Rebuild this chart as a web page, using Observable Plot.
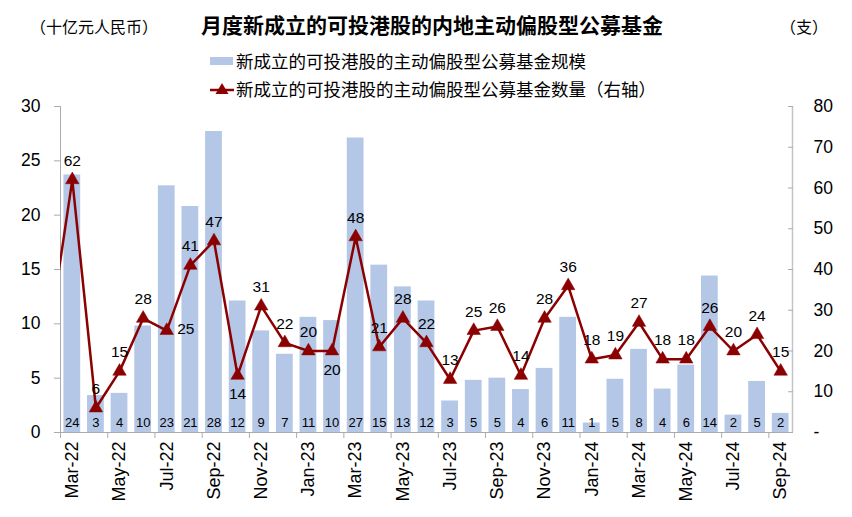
<!DOCTYPE html>
<html>
<head>
<meta charset="utf-8">
<script src="https://cdn.jsdelivr.net/npm/d3@7"></script>
<script src="https://cdn.jsdelivr.net/npm/@observablehq/plot@0.6"></script>
<style>
  body { margin: 0; background: #fff; font-family: "Liberation Sans", Arial, "Noto Sans CJK SC", sans-serif; }
  #wrap { position: relative; width: 852px; height: 517px; overflow: hidden; }
  #chart { position: absolute; left: 0; top: 0; }
  .t { position: absolute; white-space: nowrap; color: #000; line-height: 1; font-family: "Liberation Sans", Arial, "Noto Sans CJK SC", sans-serif; }
  #title { left: 0; width: 864px; text-align: center; top: 15px; font-size: 21px; font-weight: bold; }
  #unitL { left: 30px; top: 20px; font-size: 16px; }
  #unitR { left: 780px; top: 20px; font-size: 16px; }
  .leg { position: absolute; left: 210px; display: flex; align-items: center; font-size: 17.5px; white-space: nowrap; }
  .sw { width: 23px; height: 8px; background: #B4C7E7; margin-right: 3px; }
</style>
</head>
<body>
<div id="wrap">
  <div id="chart"></div>
  <div class="t" id="unitL">（十亿元人民币）</div>
  <div class="t" id="title">月度新成立的可投港股的内地主动偏股型公募基金</div>
  <div class="t" id="unitR">（支）</div>
  <div class="leg" id="leg1" style="top:48px"><div class="sw"></div><span>新成立的可投港股的主动偏股型公募基金规模</span></div>
  <div class="leg" id="leg2" style="top:76px"><svg width="25" height="14" style="margin-right:1px"><line x1="0" y1="8" x2="24" y2="8" stroke="#8B0000" stroke-width="2.5"/><path d="M12,1 L18.5,12 L5.5,12 Z" fill="#8B0000"/></svg><span>新成立的可投港股的主动偏股型公募基金数量（右轴）</span></div>
</div>
<script>
// ---- data ----
const months = ["Mar-22","Apr-22","May-22","Jun-22","Jul-22","Aug-22","Sep-22","Oct-22","Nov-22","Dec-22",
  "Jan-23","Feb-23","Mar-23","Apr-23","May-23","Jun-23","Jul-23","Aug-23","Sep-23","Oct-23","Nov-23","Dec-23",
  "Jan-24","Feb-24","Mar-24","Apr-24","May-24","Jun-24","Jul-24","Aug-24","Sep-24"];
// fund size, RMB bn (left axis)
const fundSize = [23.7, 3.4, 3.6, 9.8, 22.7, 20.8, 27.7, 12.1, 9.35, 7.2,
  10.6, 10.3, 27.1, 15.4, 13.4, 12.1, 2.9, 4.8, 5.0, 3.95, 5.9, 10.6,
  0.87, 4.9, 7.65, 4.0, 6.2, 14.4, 1.6, 4.7, 1.76];
// number of funds (right axis)
const fundCount = [62, 6, 15, 28, 25, 41, 47, 14, 31, 22,
  20, 20, 48, 21, 28, 22, 13, 25, 26, 14, 28, 36,
  18, 19, 27, 18, 18, 26, 20, 24, 15];
// the month before Mar-22, only its segment toward Mar-22 is visible
const priorCount = 23;
const leftTicks = [0, 5, 10, 15, 20, 25, 30];
const rightTicks = [0, 10, 20, 30, 40, 50, 60, 70, 80];

// ---- label placement for the count labels (default: above) ----
const countLabelPlace = {"Jul-22": "right", "Oct-22": "below", "Feb-23": "below"};

const leftMax = 30, rightMax = 80;
const toLeft = v => v * leftMax / rightMax;
const rows = months.map((m, i) => ({i, m, size: fundSize[i], count: fundCount[i]}));
const lineRows = [{i: -1, count: priorCount}, ...rows];
const place = d => countLabelPlace[d.m] || "above";
const red = "#8B0000";
const axisGray = "#ababab";
const n = months.length;

const chart = Plot.plot({
  width: 852, height: 517,
  marginTop: 106, marginBottom: 85, marginLeft: 60, marginRight: 60,
  x: {domain: [-0.5, n - 0.5], axis: null, label: null},
  y: {domain: [0, leftMax], axis: null, label: null},
  style: {fontFamily: '"Liberation Sans", Arial, sans-serif', fontSize: "17px", color: "#000", background: "transparent"},
  marks: [
    Plot.rectY(rows, {x1: d => d.i - 0.355, x2: d => d.i + 0.355, y: "size", fill: "#B4C7E7"}),
    Plot.ruleX([-0.5], {stroke: axisGray}),
    Plot.ruleX([n - 0.5], {stroke: "#c4c4c4", strokeWidth: 1.5}),
    Plot.ruleY([0], {stroke: axisGray}),
    Plot.axisY(leftTicks, {anchor: "left", label: null, tickSize: 6, tickPadding: 14, stroke: axisGray, fontSize: 17.5, fill: "#000"}),
    Plot.axisY(rightTicks.map(toLeft), {anchor: "right", label: null, tickSize: 0, tickPadding: 21, fontSize: 17.5, fill: "#000",
      tickFormat: d => { const v = Math.round(d * rightMax / leftMax); return v === 0 ? "-" : String(v); }}),
    Plot.axisY(rightTicks.map(toLeft), {anchor: "right", label: null, tickSize: -5, stroke: axisGray, tickFormat: () => ""}),
    Plot.axisX(d3.range(-0.5, n - 0.5, 2), {anchor: "bottom", label: null, tickSize: 6, stroke: axisGray, tickFormat: () => ""}),
    Plot.axisX(d3.range(0, n, 2), {anchor: "bottom", label: null, tickSize: 0, tickPadding: 9, tickRotate: -90, fontSize: 18, fill: "#000",
      tickFormat: i => months[i]}),
    Plot.text(rows, {x: "i", y: 0, text: d => String(Math.round(d.size)), dy: -10, fontSize: 13, fill: "#000"}),
    Plot.line(lineRows, {x: "i", y: d => toLeft(d.count), stroke: red, strokeWidth: 2.5, clip: true}),
    Plot.dot(rows, {x: "i", y: d => toLeft(d.count), symbol: "triangle", r: 5, fill: red, stroke: red, strokeWidth: 0.5}),
    Plot.text(rows.filter(d => place(d) === "above"), {x: "i", y: d => toLeft(d.count), text: "count", dy: -19, fontSize: 15.5, fill: "#000"}),
    Plot.text(rows.filter(d => place(d) === "below"), {x: "i", y: d => toLeft(d.count), text: "count", dy: 19, fontSize: 15.5, fill: "#000"}),
    Plot.text(rows.filter(d => place(d) === "right"), {x: "i", y: d => toLeft(d.count), text: "count", dx: 19, dy: -2, fontSize: 15.5, fill: "#000"})
  ]
});
document.getElementById("chart").appendChild(chart);
</script>
</body>
</html>
